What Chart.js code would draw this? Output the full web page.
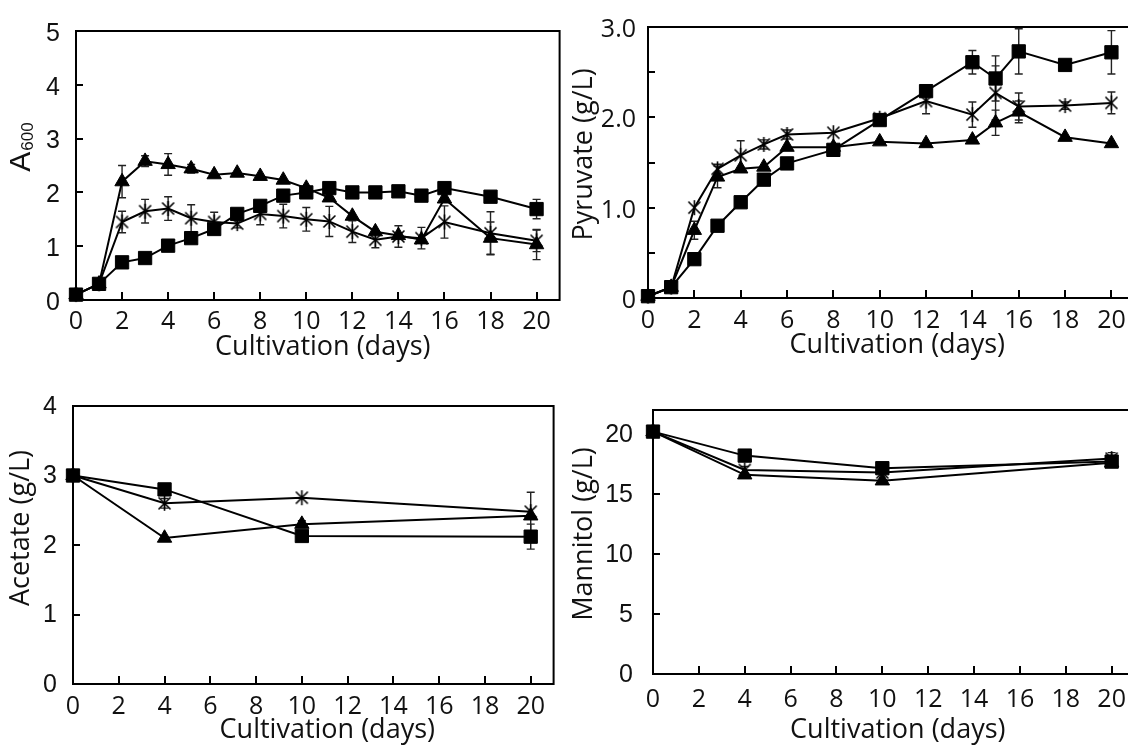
<!DOCTYPE html>
<html>
<head>
<meta charset="utf-8">
<script src="https://cdn.jsdelivr.net/npm/chart.js@4.4.0/dist/chart.umd.min.js"></script>
<style>
html, body { margin: 0; padding: 0; background: #fff; overflow: hidden; width: 1128px; height: 747px; }
canvas { position: absolute; }
</style>
</head>
<body>
<canvas id="cA600" style="left:0px;top:0px"></canvas>
<canvas id="cPyr" style="left:560px;top:0px"></canvas>
<canvas id="cAce" style="left:0px;top:375px"></canvas>
<canvas id="cMan" style="left:560px;top:375px"></canvas>
<script>
// x axis ticks, shared
const xTicks = [0, 2, 4, 6, 8, 10, 12, 14, 16, 18, 20];

// A600
const daysA600 = [0, 1, 2, 3, 4, 5, 6, 7, 8, 9, 10, 11, 12, 13, 14, 15, 16, 18, 20];
const a600Square = [0.1, 0.3, 0.7, 0.78, 1.01, 1.15, 1.32, 1.6, 1.75, 1.94, 2.0, 2.08, 2.0, 2.0, 2.02, 1.94, 2.08, 1.92, 1.69];
const a600SquareErr = [0, 0, 0, 0, 0, 0, 0, 0, 0.08, 0.1, 0.05, 0, 0, 0, 0, 0, 0.05, 0, 0.18];
const a600Star = [0.1, 0.3, 1.45, 1.65, 1.7, 1.52, 1.45, 1.42, 1.6, 1.56, 1.5, 1.46, 1.27, 1.12, 1.18, 1.15, 1.45, 1.24, 1.1];
const a600StarErr = [0, 0, 0.2, 0.22, 0.22, 0.25, 0.18, 0.08, 0.2, 0.22, 0.22, 0.28, 0.2, 0.15, 0.2, 0.2, 0.3, 0.4, 0.2];
const a600Tri = [0.1, 0.3, 2.2, 2.58, 2.52, 2.44, 2.33, 2.36, 2.3, 2.23, 2.08, 1.9, 1.56, 1.27, 1.2, 1.12, 1.88, 1.15, 1.03];
const a600TriErr = [0, 0, 0.3, 0.1, 0.2, 0.08, 0, 0, 0, 0, 0, 0, 0, 0, 0, 0, 0, 0.3, 0.28];
const a600Ticks = [0, 1, 2, 3, 4, 5];

// Pyruvate (g/L)
const daysPyr = [0, 1, 2, 3, 4, 5, 6, 8, 10, 12, 14, 15, 16, 18, 20];
const pyrSquare = [0.02, 0.12, 0.43, 0.8, 1.06, 1.31, 1.49, 1.64, 1.97, 2.29, 2.61, 2.43, 2.73, 2.58, 2.72];
const pyrSquareErr = [0, 0, 0, 0, 0, 0, 0, 0.05, 0, 0, 0.13, 0.25, 0.25, 0, 0.24];
const pyrStar = [0.02, 0.12, 1.0, 1.43, 1.58, 1.7, 1.81, 1.83, 1.99, 2.18, 2.03, 2.27, 2.12, 2.13, 2.16];
const pyrStarErr = [0, 0, 0, 0.05, 0.16, 0.05, 0.05, 0, 0, 0.14, 0.14, 0.3, 0.15, 0.04, 0.12];
const pyrTri = [0.02, 0.12, 0.75, 1.34, 1.43, 1.45, 1.67, 1.67, 1.73, 1.71, 1.75, 1.94, 2.06, 1.78, 1.71];
const pyrTriErr = [0, 0, 0.1, 0.12, 0, 0, 0, 0, 0, 0, 0, 0.14, 0.12, 0, 0];
const pyrTicks = [0, 0.5, 1, 1.5, 2, 2.5, 3];

// Acetate (g/L) and Mannitol (g/L)
const daysAM = [0, 4, 10, 20];
const aceSquare = [3.0, 2.8, 2.13, 2.12];
const aceSquareErr = [0, 0, 0, 0.18];
const aceStar = [3.0, 2.6, 2.68, 2.48];
const aceStarErr = [0, 0.07, 0, 0.28];
const aceTri = [3.0, 2.1, 2.3, 2.42];
const aceTriErr = [0, 0, 0.05, 0];
const aceTicks = [0, 1, 2, 3, 4];

const manSquare = [20.2, 18.2, 17.15, 17.7];
const manSquareErr = [0, 0, 0, 0.3];
const manStar = [20.2, 17.0, 16.8, 17.95];
const manStarErr = [0, 0.3, 0, 0.5];
const manTri = [20.2, 16.6, 16.1, 17.6];
const manTriErr = [0, 0, 0, 0];
const manTicks = [0, 5, 10, 15, 20];

// asterisk marker (vertical + two diagonals)
function makeStar(size) {
  const c = document.createElement('canvas');
  c.width = c.height = size;
  const g = c.getContext('2d');
  const m = size / 2, r = size / 2 - 1, d = r * 0.8;
  g.strokeStyle = '#000';
  g.lineWidth = 1.6;
  g.beginPath();
  g.moveTo(m, m - r); g.lineTo(m, m + r);
  g.moveTo(m - d, m - d); g.lineTo(m + d, m + d);
  g.moveTo(m - d, m + d); g.lineTo(m + d, m - d);
  g.stroke();
  return c;
}
const starImg = makeStar(17);

function series(days, vals, errs, pointStyle, r) {
  return {
    data: days.map((d, i) => ({ x: d, y: vals[i] })),
    errors: errs,
    borderColor: '#000',
    backgroundColor: '#000',
    borderWidth: 2,
    pointStyle: pointStyle,
    pointRadius: r,
    pointBorderWidth: 1,
    pointBackgroundColor: '#000',
    pointBorderColor: '#000',
    tension: 0,
    fill: false,
    clip: false
  };
}

const framePlugin = {
  id: 'frame',
  beforeDatasetsDraw(chart) {
    const { ctx } = chart;
    const xs = chart.scales.x, ys = chart.scales.y;
    ctx.save();
    ctx.strokeStyle = '#222';
    ctx.lineWidth = 1.4;
    chart.data.datasets.forEach(ds => {
      (ds.errors || []).forEach((e, i) => {
        if (!e) return;
        const px = xs.getPixelForValue(ds.data[i].x);
        const top = ys.getPixelForValue(ds.data[i].y + e);
        const bot = ys.getPixelForValue(ds.data[i].y - e);
        ctx.beginPath();
        ctx.moveTo(px, top); ctx.lineTo(px, bot);
        ctx.moveTo(px - 4, top); ctx.lineTo(px + 4, top);
        ctx.moveTo(px - 4, bot); ctx.lineTo(px + 4, bot);
        ctx.stroke();
      });
    });
    ctx.restore();
  },
  afterDraw(chart, args, opts) {
    const { ctx, chartArea: a } = chart;
    const xs = chart.scales.x, ys = chart.scales.y;
    ctx.save();
    ctx.strokeStyle = '#000';
    ctx.lineWidth = 2;
    ctx.strokeRect(a.left, a.top, a.right - a.left, a.bottom - a.top);
    ctx.beginPath();
    xs.ticks.forEach(t => {
      const px = Math.round(xs.getPixelForValue(t.value));
      ctx.moveTo(px, a.bottom); ctx.lineTo(px, a.bottom - 8);
    });
    ys.ticks.forEach(t => {
      const py = Math.round(ys.getPixelForValue(t.value));
      ctx.moveTo(a.left, py); ctx.lineTo(a.left + 7, py);
    });
    ctx.stroke();

    // axis titles
    ctx.fillStyle = '#111';
    ctx.textBaseline = 'middle';
    ctx.textAlign = 'center';
    ctx.font = '27px "Open Sans"';
    const cx = (a.left + a.right) / 2, cy = (a.top + a.bottom) / 2;
    ctx.fillText(opts.xTitle, cx + opts.xdx, a.bottom + opts.xdy);

    ctx.translate(opts.yx, cy + opts.ydy);
    ctx.rotate(-Math.PI / 2);
    if (opts.ySub) {
      ctx.font = '30px "Liberation Sans"';
      const wA = ctx.measureText(opts.yTitle).width;
      ctx.font = '17px "Liberation Sans"';
      const wS = ctx.measureText(opts.ySub).width;
      const x0 = -(wA + wS) / 2;
      ctx.textAlign = 'left';
      ctx.font = '30px "Liberation Sans"';
      ctx.fillText(opts.yTitle, x0, 0);
      ctx.font = '17px "Liberation Sans"';
      ctx.fillText(opts.ySub, x0 + wA + 1, 6);
    } else {
      ctx.fillText(opts.yTitle, 0, 0);
    }
    ctx.restore();
  }
};

function makeChart(id, p) {
  const el = document.getElementById(id);
  el.width = p.w; el.height = p.h;
  el.style.width = p.w + 'px'; el.style.height = p.h + 'px';
  return new Chart(el, {
    type: 'line',
    data: {
      datasets: [
        series(p.days, p.star, p.starErr, starImg, 8),
        series(p.days, p.tri, p.triErr, 'triangle', 8.3),
        series(p.days, p.square, p.squareErr, 'rect', 9.4)
      ]
    },
    options: {
      responsive: false,
      animation: false,
      events: [],
      layout: { padding: { top: p.padTop, right: 8, left: 0, bottom: 0 } },
      plugins: {
        legend: { display: false },
        tooltip: { enabled: false },
        frame: p.titles
      },
      scales: {
        x: {
          type: 'linear', min: 0, max: 21,
          afterBuildTicks: s => { s.ticks = xTicks.map(v => ({ value: v })); },
          afterFit: s => { s.height = p.xH; },
          grid: { display: false, drawTicks: false },
          border: { display: false },
          ticks: { padding: p.xPad, autoSkip: false, maxRotation: 0, color: '#111',
                   font: { family: 'Open Sans', size: 25 } }
        },
        y: {
          type: 'linear', min: 0, max: p.yMax,
          afterBuildTicks: s => { s.ticks = p.yTicks.map(v => ({ value: v })); },
          afterFit: s => { s.width = p.yW; },
          grid: { display: false, drawTicks: false },
          border: { display: false },
          ticks: { padding: p.yPad, labelOffset: p.yOff, color: '#111',
                   font: { family: p.yFont, size: 25 },
                   callback: p.yFmt || (v => String(v)) }
        }
      }
    },
    plugins: [framePlugin]
  });
}

makeChart('cA600', {
  w: 570, h: 375, padTop: 17, xH: 75, yW: 76, xPad: 7, yPad: 16, yOff: 3, yMax: 5,
  yTicks: a600Ticks, yFont: 'Liberation Sans',
  days: daysA600, square: a600Square, squareErr: a600SquareErr,
  star: a600Star, starErr: a600StarErr, tri: a600Tri, triErr: a600TriErr,
  titles: { xTitle: 'Cultivation (days)', xdx: 5, xdy: 47, yTitle: 'A', ySub: '600', yx: 22, ydy: -18 }
});

makeChart('cPyr', {
  w: 585, h: 375, padTop: 21, xH: 77, yW: 88, xPad: 8, yPad: 12, yOff: 3, yMax: 3,
  yTicks: pyrTicks, yFont: 'Open Sans',
  yFmt: v => v === 0 ? '0' : (v % 1 === 0 ? v.toFixed(1) : ''),
  days: daysPyr, square: pyrSquare, squareErr: pyrSquareErr,
  star: pyrStar, starErr: pyrStarErr, tri: pyrTri, triErr: pyrTriErr,
  titles: { xTitle: 'Cultivation (days)', xdx: 6, xdy: 47, yTitle: 'Pyruvate (g/L)', yx: 24, ydy: -8 }
});

makeChart('cAce', {
  w: 564, h: 372, padTop: 24, xH: 63, yW: 73, xPad: 8, yPad: 16, yOff: 1, yMax: 4,
  yTicks: aceTicks, yFont: 'Liberation Sans',
  days: daysAM, square: aceSquare, squareErr: aceSquareErr,
  star: aceStar, starErr: aceStarErr, tri: aceTri, triErr: aceTriErr,
  titles: { xTitle: 'Cultivation (days)', xdx: 14, xdy: 46, yTitle: 'Acetate (g/L)', yx: 21, ydy: -17 }
});

makeChart('cMan', {
  w: 585, h: 372, padTop: 22, xH: 73, yW: 93, xPad: 11, yPad: 20, yOff: 1, yMax: 22,
  yTicks: manTicks, yFont: 'Liberation Sans',
  days: daysAM, square: manSquare, squareErr: manSquareErr,
  star: manStar, starErr: manStarErr, tri: manTri, triErr: manTriErr,
  titles: { xTitle: 'Cultivation (days)', xdx: 4, xdy: 56, yTitle: 'Mannitol (g/L)', yx: 24, ydy: -8 }
});
</script>
</body>
</html>
